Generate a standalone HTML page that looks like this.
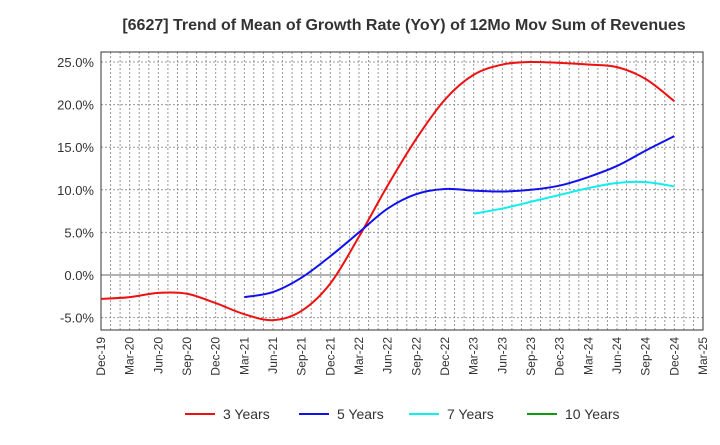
<!DOCTYPE html>
<html><head><meta charset="utf-8"><style>
body{margin:0;background:#fff;font-family:"Liberation Sans",sans-serif}
</style></head><body>
<svg id="c" width="720" height="440" xmlns="http://www.w3.org/2000/svg">
<text x="404" y="30" text-anchor="middle" font-size="16" font-weight="bold" fill="#333">[6627]  Trend of Mean of Growth Rate (YoY) of 12Mo Mov Sum of Revenues</text>
<g id="grid"></g><g id="axes"></g><g id="series"></g><g id="legend"></g>
</svg>
<script>
const xLabels=["Dec-19","Mar-20","Jun-20","Sep-20","Dec-20","Mar-21","Jun-21","Sep-21","Dec-21","Mar-22","Jun-22","Sep-22","Dec-22","Mar-23","Jun-23","Sep-23","Dec-23","Mar-24","Jun-24","Sep-24","Dec-24","Mar-25"];
const yTicks=[-5,0,5,10,15,20,25];
const seriesNames=["3 Years","5 Years","7 Years","10 Years"];
const seriesColors=["#ee1111","#1111ee","#11eeee","#119911"];
const s3=[-2.8,-2.6,-2.1,-2.2,-3.3,-4.6,-5.3,-4.2,-1.0,4.5,10.5,16.0,20.6,23.5,24.7,25.0,24.9,24.7,24.4,23.0,20.4];
const s5=[null,null,null,null,null,-2.6,-2.0,-0.3,2.2,5.0,7.8,9.5,10.1,9.9,9.8,10.0,10.5,11.5,12.8,14.6,16.3];
const s7=[null,null,null,null,null,null,null,null,null,null,null,null,null,7.2,7.8,8.6,9.4,10.2,10.8,10.9,10.4];
const s10=[];
const NS="http://www.w3.org/2000/svg";
const L=101,R=703,T=52,B=330;
const x=q=>L+q*(R-L)/21;
const y=v=>275-v*8.52;
function el(t,a,p){const e=document.createElementNS(NS,t);for(const k in a)e.setAttribute(k,a[k]);document.getElementById(p).appendChild(e);return e;}
for(let m=1;m<63;m++){const xx=L+m*(R-L)/63;const g=el("line",{x1:xx,x2:xx,y1:T,y2:B,stroke:"#999","stroke-dasharray":"2,2","stroke-width":1},"grid");

}
yTicks.forEach(v=>{const g=el("line",{x1:L,x2:R,y1:y(v),y2:y(v),stroke:v===0?"#666":"#999","stroke-dasharray":v===0?"none":"2,2"},"grid");


const t=el("text",{x:L-7,y:y(v)+5,"text-anchor":"end","font-size":13,fill:"#333"},"axes");t.textContent=v.toFixed(1)+"%";

});
const fr=el("rect",{x:L,y:T,width:R-L,height:B-T,fill:"none",stroke:"#333"},"axes");


xLabels.forEach((s,i)=>{const t=el("text",{transform:`translate(${x(i)+4},${B+7}) rotate(-90)`,"text-anchor":"end","font-size":12,fill:"#333"},"axes");t.textContent=s;

});
function path(arr){const p=[];arr.forEach((v,i)=>{if(v!=null)p.push([x(i),y(v)]);});if(p.length<2)return "";
let d=`M${p[0][0]},${p[0][1]}`;for(let i=0;i<p.length-1;i++){const p0=p[i-1]||p[i],p1=p[i],p2=p[i+1],p3=p[i+2]||p2;
d+=`C${p1[0]+(p2[0]-p0[0])/6},${p1[1]+(p2[1]-p0[1])/6} ${p2[0]-(p3[0]-p1[0])/6},${p2[1]-(p3[1]-p1[1])/6} ${p2[0]},${p2[1]}`;}return d;}
[s3,s5,s7,s10].forEach((a,i)=>{const d=path(a);if(!d)return;const e=el("path",{d:d,fill:"none",stroke:seriesColors[i],"stroke-width":2},"series");

});
const lx=[185,299,409,527];
seriesNames.forEach((n,i)=>{const l=el("line",{x1:lx[i],x2:lx[i]+30,y1:414,y2:414,stroke:seriesColors[i],"stroke-width":2},"legend");


const t=el("text",{x:lx[i]+38,y:419,"font-size":14,fill:"#333"},"legend");t.textContent=n;

});
</script>
</body></html>
